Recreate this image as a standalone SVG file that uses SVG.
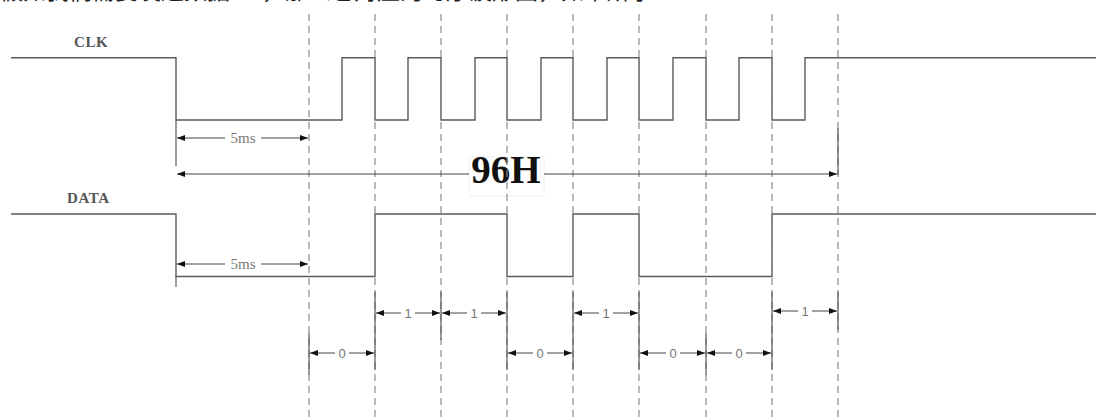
<svg xmlns="http://www.w3.org/2000/svg" width="1096" height="417" viewBox="0 0 1096 417">
<defs>
<style>
.wave{fill:none;stroke:#5a5a5a;stroke-width:1.4}
.grid{stroke:#8a8a8a;stroke-width:1.2;stroke-dasharray:7,5}
.ext{stroke:#5a5a5a;stroke-width:1.2}
.dim{stroke:#444;stroke-width:1;marker-start:url(#ah);marker-end:url(#ah)}
.lbl{font-family:"Liberation Serif",serif;font-weight:bold;font-size:15px;fill:#555;letter-spacing:0.6px}
.ms{font-family:"Liberation Serif",serif;font-size:15px;fill:#777;text-anchor:middle}
.bit{font-family:"Liberation Sans",sans-serif;font-size:13px;fill:#777;text-anchor:middle}
.big{font-family:"Liberation Serif",serif;font-weight:bold;font-size:39px;fill:#111;text-anchor:middle}
.cap{font-family:"Noto Sans CJK SC",sans-serif;font-size:23px;fill:#222}
</style>
<marker id="ah" viewBox="0 0 8 6" refX="8" refY="3" markerWidth="8" markerHeight="6" markerUnits="userSpaceOnUse" orient="auto-start-reverse">
<path d="M0,0 L8,3 L0,6 z" fill="#111"/>
</marker>
</defs>
<rect width="1096" height="417" fill="#fff"/>
<g id="caption">
<text class="cap" x="0" y="-1.5">假如我们需要发送数据</text>
<text class="cap" x="262" y="-1.5">，那么它对应的时序波形图，如下所示：</text>
</g>
<g id="clk">
<text class="lbl" x="74" y="47">CLK</text>
<polyline class="wave" points="11,57.7 176,57.7 176,120 342,120 342,57.7 375,57.7 375,120 408,120 408,57.7 441,57.7 441,120 475,120 475,57.7 507,57.7 507,120 541,120 541,57.7 573,57.7 573,120 607,120 607,57.7 639,57.7 639,120 673,120 673,57.7 706,57.7 706,120 739,120 739,57.7 772,57.7 772,120 805,120 805,57.7 1096,57.7"/>
<line class="ext" x1="176" y1="120" x2="176" y2="166"/>
</g>
<g id="data">
<text class="lbl" x="67" y="203">DATA</text>
<polyline class="wave" points="11,214 176,214 176,276.5 375,276.5 375,214 507,214 507,276.5 573,276.5 573,214 639,214 639,276.5 772,276.5 772,214 1096,214"/>
<line class="ext" x1="176" y1="276" x2="176" y2="287"/>
</g>
<g id="label-96H">
<rect x="469" y="157" width="75" height="39" fill="#fff" stroke="#f0f0f0" stroke-width="1"/>
<text class="big" x="506" y="183">96H</text>
</g>
<g id="connectors">
<g id="grid">
<line class="grid" x1="309" y1="14" x2="309" y2="417"/>
<line class="grid" x1="375" y1="14" x2="375" y2="417"/>
<line class="grid" x1="441" y1="14" x2="441" y2="417"/>
<line class="grid" x1="507" y1="14" x2="507" y2="417"/>
<line class="grid" x1="573" y1="14" x2="573" y2="417"/>
<line class="grid" x1="639" y1="14" x2="639" y2="417"/>
<line class="grid" x1="706" y1="14" x2="706" y2="417"/>
<line class="grid" x1="772" y1="14" x2="772" y2="417"/>
<line class="grid" x1="838" y1="14" x2="838" y2="417"/>
</g>
<g id="extensions">
<line class="ext" x1="838" y1="128" x2="838" y2="175"/>
<line class="ext" x1="309" y1="333" x2="309" y2="375"/>
<line class="ext" x1="375" y1="292" x2="375" y2="370"/>
<line class="ext" x1="441" y1="292" x2="441" y2="340"/>
<line class="ext" x1="507" y1="292" x2="507" y2="370"/>
<line class="ext" x1="573" y1="292" x2="573" y2="370"/>
<line class="ext" x1="639" y1="292" x2="639" y2="370"/>
<line class="ext" x1="706" y1="333" x2="706" y2="375"/>
<line class="ext" x1="772" y1="292" x2="772" y2="370"/>
<line class="ext" x1="838" y1="292" x2="838" y2="330"/>
</g>
<g id="dims">
<line class="dim" x1="177" y1="138" x2="308" y2="138"/>
<rect x="225" y="130" width="36" height="16" fill="#fff"/>
<text class="ms" x="243" y="143">5ms</text>
<line class="dim" x1="177" y1="264" x2="308" y2="264"/>
<rect x="225" y="256" width="36" height="16" fill="#fff"/>
<text class="ms" x="243" y="269">5ms</text>
<line class="dim" x1="177" y1="174" x2="469" y2="174" style="marker-end:none"/>
<line class="dim" x1="544" y1="174" x2="837" y2="174" style="marker-start:none"/>
<line class="dim" x1="310" y1="353" x2="374" y2="353"/>
<line class="dim" x1="376" y1="313" x2="440" y2="313"/>
<line class="dim" x1="442" y1="313" x2="506" y2="313"/>
<line class="dim" x1="508" y1="353" x2="572" y2="353"/>
<line class="dim" x1="574" y1="313" x2="638" y2="313"/>
<line class="dim" x1="640" y1="353" x2="705" y2="353"/>
<line class="dim" x1="707" y1="353" x2="771" y2="353"/>
<line class="dim" x1="773" y1="311" x2="837" y2="311"/>
<g id="bit-labels">
<rect x="335" y="345" width="14" height="16" fill="#fff"/><text class="bit" x="342" y="358">0</text>
<rect x="401" y="305" width="14" height="16" fill="#fff"/><text class="bit" x="408" y="318">1</text>
<rect x="467" y="305" width="14" height="16" fill="#fff"/><text class="bit" x="474" y="318">1</text>
<rect x="533" y="345" width="14" height="16" fill="#fff"/><text class="bit" x="540" y="358">0</text>
<rect x="599" y="305" width="14" height="16" fill="#fff"/><text class="bit" x="606" y="318">1</text>
<rect x="666" y="345" width="14" height="16" fill="#fff"/><text class="bit" x="673" y="358">0</text>
<rect x="732" y="345" width="14" height="16" fill="#fff"/><text class="bit" x="739" y="358">0</text>
<rect x="798" y="303" width="14" height="16" fill="#fff"/><text class="bit" x="805" y="316">1</text>
</g>
</g>
</g>
</svg>
